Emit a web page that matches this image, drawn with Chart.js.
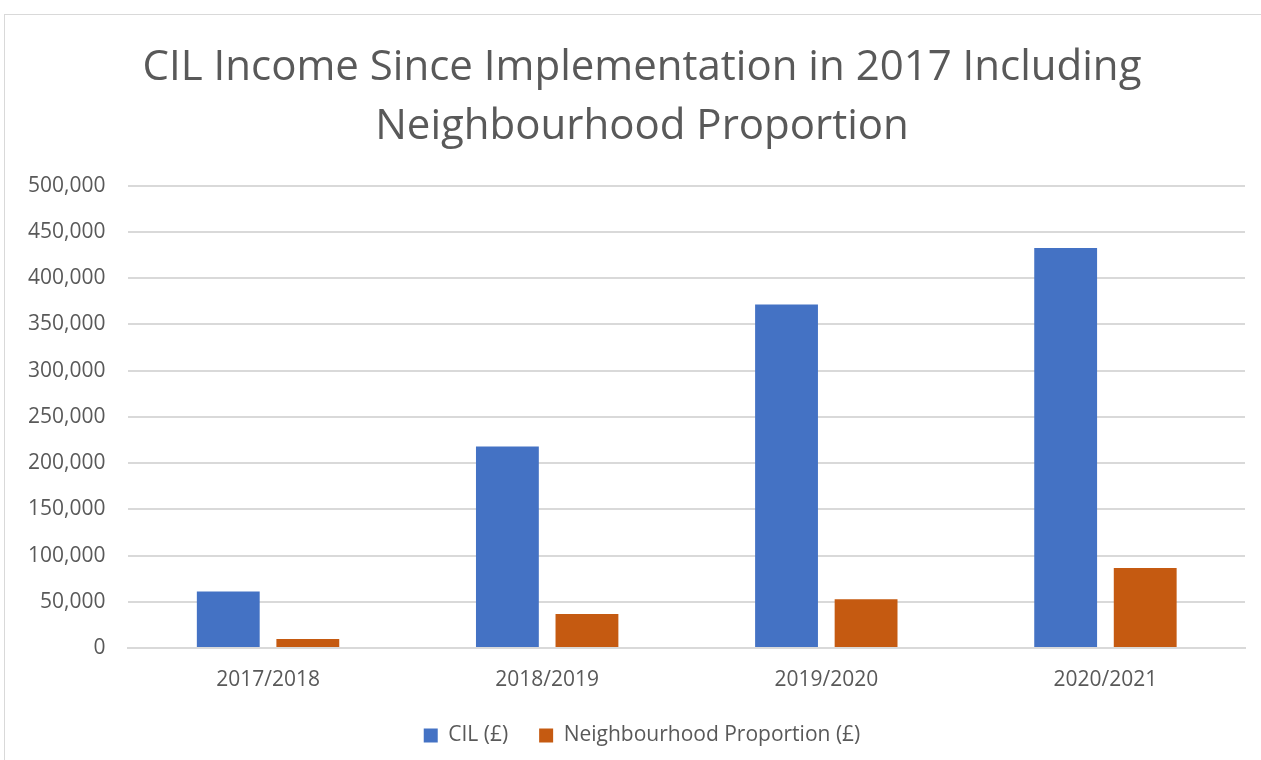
<!DOCTYPE html>
<html>
<head>
<meta charset="utf-8">
<script src="https://cdn.jsdelivr.net/npm/chart.js@4.4.1/dist/chart.umd.min.js"></script>
<style>
  html, body { margin: 0; padding: 0; background: #fff; overflow: hidden; }
  #frame {
    position: absolute; left: 4px; top: 14px;
    width: 1290px; height: 760px;
    border: 1px solid #d9d9d9; background: #fff;
  }
  #wrap { position: absolute; left: 0; top: 0; width: 1274px; height: 746px; }
</style>
</head>
<body>
<div id="frame"><div id="wrap"><canvas id="js-chart-cil"></canvas></div></div>
<script>
// Chart data
const categories = ['2017/2018', '2018/2019', '2019/2020', '2020/2021'];
const cilValues = [61200, 218000, 371500, 432400];
const neighbourhoodValues = [9700, 36700, 52600, 86400];
const titleLines = ['CIL Income Since Implementation in 2017 Including', 'Neighbourhood Proportion'];

const textColor = '#595959';
const fontFamily = '"Open Sans", sans-serif';

Chart.defaults.color = textColor;
Chart.defaults.font.family = fontFamily;

let chartCon = document.getElementById('js-chart-cil');

let chartData = {
  labels: categories,
  datasets: [
    {
      label: 'CIL (£)',
      backgroundColor: '#4472C4',
      data: cilValues,
      categoryPercentage: 0.57,
      barPercentage: 0.79
    },
    {
      label: 'Neighbourhood Proportion (£)',
      backgroundColor: '#C55A11',
      data: neighbourhoodValues,
      categoryPercentage: 0.57,
      barPercentage: 0.79
    }
  ]
};

let chartOptions = {
  responsive: true,
  maintainAspectRatio: false,
  animation: false,
  layout: { padding: { left: 0, right: 0, top: 24, bottom: 5 } },
  scales: {
    x: {
      grid: { display: false, drawTicks: false },
      border: { display: true, color: '#d9d9d9', width: 2 },
      ticks: { font: { size: 21, lineHeight: 1 }, padding: 22, color: textColor },
      // keep the plot bottom where the legend spacing wants it
      afterFit: function (scale) { scale.height = 46; }
    },
    y: {
      min: 0,
      max: 500000,
      ticks: {
        stepSize: 50000,
        font: { size: 21 },
        padding: 23,
        color: textColor,
        callback: function (v) { return v.toLocaleString('en-GB'); }
      },
      grid: { color: '#d9d9d9', lineWidth: 2, drawTicks: false },
      border: { display: false }
    },
    // empty right margin, so title and legend stay centred on the whole frame
    yRight: {
      position: 'right',
      display: true,
      grid: { display: false, drawTicks: false },
      ticks: { display: false },
      border: { display: false },
      afterFit: function (scale) { scale.width = 34; }
    }
  },
  plugins: {
    title: {
      display: true,
      text: titleLines,
      font: { size: 42, weight: 'normal', lineHeight: 1.4 },
      color: textColor,
      padding: { top: 0, bottom: 29 }
    },
    legend: {
      display: true,
      position: 'bottom',
      labels: {
        boxWidth: 14,
        boxHeight: 14,
        font: { size: 21, lineHeight: 1 },
        color: textColor,
        padding: 31
      }
    },
    tooltip: { enabled: false }
  }
};

new Chart(chartCon, { type: 'bar', data: chartData, options: chartOptions });
</script>
</body>
</html>
